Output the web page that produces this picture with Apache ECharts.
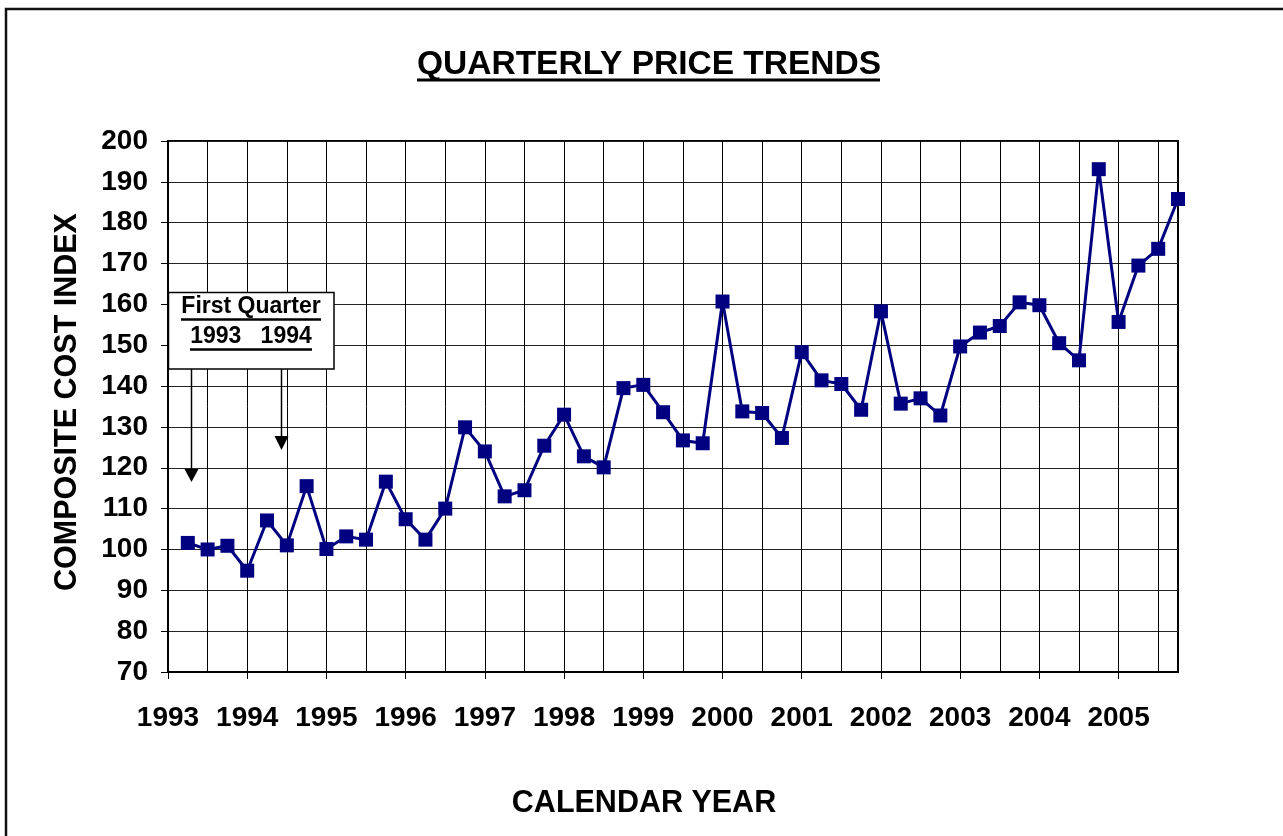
<!DOCTYPE html>
<html>
<head>
<meta charset="utf-8">
<script src="https://cdn.jsdelivr.net/npm/echarts@6/dist/echarts.min.js"></script>
<style>
html,body{margin:0;padding:0;background:#fff;}
#c{width:1283px;height:836px;}
</style>
</head>
<body>
<div id="c"></div>
<script>
// Quarter positions (decimal years) and index values
var quarters = [
  1993.25,1993.5,1993.75,1994.0,1994.25,1994.5,1994.75,1995.0,1995.25,1995.5,1995.75,1996.0,
  1996.25,1996.5,1996.75,1997.0,1997.25,1997.5,1997.75,1998.0,1998.25,1998.5,1998.75,1999.0,
  1999.25,1999.5,1999.75,2000.0,2000.25,2000.5,2000.75,2001.0,2001.25,2001.5,2001.75,2002.0,
  2002.25,2002.5,2002.75,2003.0,2003.25,2003.5,2003.75,2004.0,2004.25,2004.5,2004.75,2005.0,
  2005.25,2005.5,2005.75
];
var costIndex = [
  101.6,100.0,100.9,94.8,107.1,101.0,115.5,100.1,103.2,102.4,116.6,107.4,
  102.4,110.0,129.9,124.0,113.0,114.5,125.4,133.0,122.8,120.1,139.5,140.3,
  133.6,126.7,126.0,160.7,133.8,133.4,127.3,148.3,141.4,140.5,134.2,158.3,
  135.7,137.0,132.8,149.7,153.1,154.7,160.5,159.8,150.5,146.3,193.1,155.7,
  169.5,173.6,185.8
];
var yearTicks = [1993,1994,1995,1996,1997,1998,1999,2000,2001,2002,2003,2004,2005];
var titleText = 'QUARTERLY PRICE TRENDS';
var xAxisTitle = 'CALENDAR YEAR';
var yAxisTitle = 'COMPOSITE COST INDEX';
var noteLine1 = 'First Quarter';
var noteLine2 = '1993   1994';

var FONT = '"Liberation Sans", Arial, Helvetica, sans-serif';
var seriesData = quarters.map(function (q, i) { return [q, costIndex[i]]; });

var chart = echarts.init(document.getElementById('c'), null, {renderer: 'canvas'});
var option = {
  backgroundColor: '#ffffff',
  animation: false,
  title: {
    text: titleText,
    left: 417,
    top: 48,
    padding: 0,
    textStyle: {fontFamily: FONT, fontSize: 33.5, fontWeight: 'bold', color: '#000'}
  },
  grid: {
    left: 168, top: 141, right: 105, bottom: 164,
    show: true, borderColor: '#000', borderWidth: 2, backgroundColor: 'transparent'
  },
  xAxis: [{
    type: 'value',
    min: 1993, max: 2005.75, interval: 0.5,
    axisLine: {show: true, onZero: false, lineStyle: {color: '#000', width: 2}},
    axisTick: {show: true, length: 7, customValues: yearTicks, lineStyle: {color: '#000', width: 1}},
    axisLabel: {
      customValues: yearTicks,
      margin: 32,
      fontFamily: FONT, fontSize: 28, fontWeight: 'bold', color: '#000',
      formatter: function (v) { return String(Math.round(v)); }
    },
    splitLine: {show: false},
    z: 3
  }, {
    type: 'value',
    position: 'bottom',
    min: 1993, max: 2005.75, interval: 0.5,
    axisLine: {show: false},
    axisTick: {show: false},
    axisLabel: {show: false},
    splitLine: {show: true, lineStyle: {color: '#000', width: 1}}
  }],
  yAxis: {
    type: 'value',
    min: 70, max: 200, interval: 10,
    axisLine: {show: true, lineStyle: {color: '#000', width: 2}},
    axisTick: {show: true, length: 7, lineStyle: {color: '#000', width: 1}},
    axisLabel: {margin: 20, fontFamily: FONT, fontSize: 28, fontWeight: 'bold', color: '#000'},
    splitLine: {show: true, lineStyle: {color: '#222', width: 1}}
  },
  series: [{
    type: 'line',
    xAxisIndex: 0,
    data: seriesData,
    symbol: 'rect',
    symbolSize: 14,
    lineStyle: {color: '#000080', width: 3},
    itemStyle: {color: '#000080'},
    z: 5
  }],
  graphic: [
    {type: 'rect', shape: {x: 6, y: 9, width: 1400, height: 1000},
     style: {fill: 'none', stroke: '#111', lineWidth: 2.5}, z: 100},
    {type: 'line', shape: {x1: 417, y1: 80, x2: 880, y2: 80},
     style: {stroke: '#000', lineWidth: 3}, z: 100},
    // axis titles
    {type: 'text', x: 644, y: 804,
     style: {text: xAxisTitle, fontFamily: FONT, fontSize: 30.5, fontWeight: 'bold', fill: '#000',
             align: 'center', verticalAlign: 'middle'}, z: 100},
    {type: 'text', x: 68, y: 402, rotation: Math.PI / 2,
     style: {text: yAxisTitle, fontFamily: FONT, fontSize: 30.5, fontWeight: 'bold', fill: '#000',
             align: 'center', verticalAlign: 'middle'}, z: 100},
    // annotation box
    {type: 'rect', shape: {x: 168.5, y: 292.5, width: 165.5, height: 76.5},
     style: {fill: '#fff', stroke: '#000', lineWidth: 1.5}, z: 100},
    {type: 'text', x: 251, y: 307,
     style: {text: noteLine1, fontFamily: FONT, fontSize: 23, fontWeight: 'bold', fill: '#000',
             align: 'center', verticalAlign: 'middle'}, z: 101},
    {type: 'line', shape: {x1: 181, y1: 319.5, x2: 321, y2: 319.5},
     style: {stroke: '#000', lineWidth: 2.5}, z: 101},
    {type: 'text', x: 251, y: 337,
     style: {text: noteLine2, fontFamily: FONT, fontSize: 23, fontWeight: 'bold', fill: '#000',
             align: 'center', verticalAlign: 'middle'}, z: 101},
    {type: 'line', shape: {x1: 190, y1: 349.5, x2: 312, y2: 349.5},
     style: {stroke: '#000', lineWidth: 2.5}, z: 101},
    // arrows
    {type: 'line', shape: {x1: 191.5, y1: 369, x2: 191.5, y2: 470},
     style: {stroke: '#000', lineWidth: 1.5}, z: 101},
    {type: 'polygon', shape: {points: [[184.5, 469], [198.5, 469], [191.5, 482]]},
     style: {fill: '#000'}, z: 101},
    {type: 'line', shape: {x1: 281.5, y1: 369, x2: 281.5, y2: 437},
     style: {stroke: '#000', lineWidth: 1.5}, z: 101},
    {type: 'polygon', shape: {points: [[274.5, 436], [288.5, 436], [281.5, 450]]},
     style: {fill: '#000'}, z: 101}
  ]
};
chart.setOption(option);
</script>
</body>
</html>
